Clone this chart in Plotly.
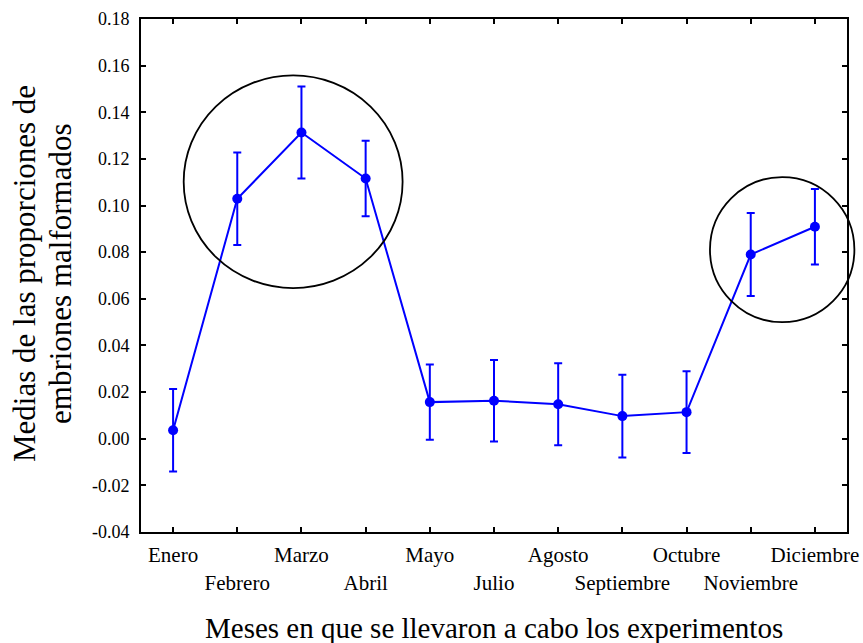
import plotly.graph_objects as go

# Monthly means of malformed-embryo proportions with their error bars
meses = ["Enero", "Febrero", "Marzo", "Abril", "Mayo", "Julio", "Agosto",
         "Septiembre", "Octubre", "Noviembre", "Diciembre"]
medias = [0.0036, 0.1029, 0.1313, 0.1116, 0.0157, 0.0163, 0.0148,
          0.0097, 0.0114, 0.0790, 0.0909]
errores = [0.0177, 0.0198, 0.0197, 0.0162, 0.0161, 0.0175, 0.0176,
           0.0177, 0.0175, 0.0178, 0.0162]

y_ticks = [-0.04, -0.02, 0.00, 0.02, 0.04, 0.06, 0.08, 0.10, 0.12, 0.14, 0.16, 0.18]
y_tick_text = ["-0.04", "-0.02", "0.00", "0.02", "0.04", "0.06", "0.08",
               "0.10", "0.12", "0.14", "0.16", "0.18"]

# Highlighted groups, as ellipses in data units: (x0, x1, y0, y1)
grupos = [(0.165, 3.576, 0.0646, 0.1558),
          (8.365, 10.615, 0.0500, 0.1122)]

X_RANGE = (-0.5, len(meses) - 0.5)
Y_RANGE = (-0.04, 0.18)

FONT = "Liberation Serif, Times New Roman, serif"

x_idx = list(range(len(meses)))
# alternate tick labels between two rows
tick_text = [m if i % 2 == 0 else " <br>" + m for i, m in enumerate(meses)]

fig = go.Figure()
fig.add_trace(go.Scatter(
    x=x_idx, y=medias,
    mode="lines+markers",
    line=dict(color="#0000ff", width=2),
    marker=dict(color="#0000ff", size=10),
    error_y=dict(type="data", array=errores, visible=True,
                 color="#0000ff", thickness=2, width=4),
    showlegend=False,
))


def to_paper_x(v):
    return (v - X_RANGE[0]) / (X_RANGE[1] - X_RANGE[0])


def to_paper_y(v):
    return (v - Y_RANGE[0]) / (Y_RANGE[1] - Y_RANGE[0])


for x0, x1, y0, y1 in grupos:
    fig.add_shape(type="circle", xref="paper", yref="paper",
                  x0=to_paper_x(x0), x1=to_paper_x(x1),
                  y0=to_paper_y(y0), y1=to_paper_y(y1),
                  line=dict(color="black", width=1.8), layer="above")

axis_common = dict(showline=True, linecolor="black", linewidth=2,
                   mirror="ticks", ticks="inside", ticklen=5, tickwidth=1.5,
                   tickcolor="black", showgrid=False, zeroline=False,
                   automargin=False)

fig.update_xaxes(range=list(X_RANGE), tickmode="array", tickvals=x_idx,
                 ticktext=tick_text, tickangle=0, ticklabelstandoff=3,
                 tickfont=dict(family=FONT, size=21, color="black"),
                 **axis_common)
fig.update_yaxes(range=list(Y_RANGE), tickmode="array", tickvals=y_ticks,
                 ticktext=y_tick_text, ticklabelstandoff=6,
                 tickfont=dict(family=FONT, size=18, color="black"),
                 **axis_common)

# axis titles
fig.add_annotation(text="Meses en que se llevaron a cabo los experimentos",
                   xref="paper", yref="paper", x=0.5, y=-0.187,
                   xanchor="center", yanchor="middle", showarrow=False,
                   font=dict(family=FONT, size=29, color="black"))
fig.add_annotation(text="Medias de las proporciones de",
                   xref="paper", yref="paper", x=(25 - 141) / 706, y=0.503,
                   xanchor="center", yanchor="middle", textangle=-90,
                   showarrow=False,
                   font=dict(family=FONT, size=31, color="black"))
fig.add_annotation(text="embriones malformados",
                   xref="paper", yref="paper", x=(61 - 141) / 706, y=0.503,
                   xanchor="center", yanchor="middle", textangle=-90,
                   showarrow=False,
                   font=dict(family=FONT, size=31, color="black"))

fig.update_layout(width=863, height=643,
                  margin=dict(l=141, r=16, t=19, b=111),
                  paper_bgcolor="white", plot_bgcolor="white",
                  font=dict(family=FONT, color="black"))

fig.write_html("out.html")
